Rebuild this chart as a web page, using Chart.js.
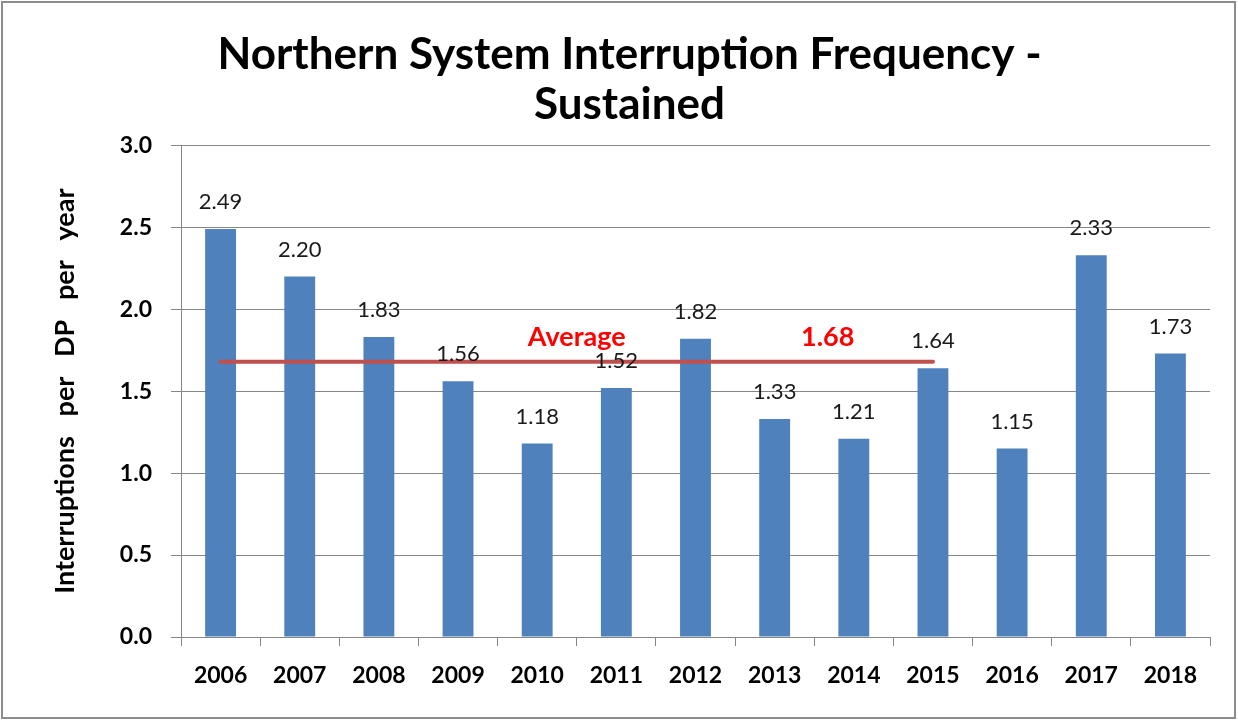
<!DOCTYPE html>
<html><head><meta charset="utf-8">
<script src="https://cdn.jsdelivr.net/npm/chart.js@4"></script>
<style>html,body{margin:0;padding:0;background:#fff;}#wrap{width:1238px;height:721px;position:relative;}</style>
</head><body><div id="wrap"><canvas id="c" width="1238" height="721"></canvas></div>
<script>
const categories = ['2006','2007','2008','2009','2010','2011','2012','2013','2014','2015','2016','2017','2018'];
const values = [2.49,2.20,1.83,1.56,1.18,1.52,1.82,1.33,1.21,1.64,1.15,2.33,1.73];
const averageValue = 1.68;
const averageLine = [1.68,1.68,1.68,1.68,1.68,1.68,1.68,1.68,1.68,1.68,null,null,null];
const yTicks = [0,0.5,1.0,1.5,2.0,2.5,3.0];
const FONT = 'Lato, "Open Sans", sans-serif';

const overlay = {
  id:'overlay',
  afterDatasetsDraw(chart){
    const ctx = chart.ctx;
    const meta = chart.getDatasetMeta(1);
    ctx.save();
    ctx.font = '22px ' + FONT;
    ctx.fillStyle = '#1a1a1a';
    ctx.textAlign = 'center';
    ctx.textBaseline = 'middle';
    meta.data.forEach((bar,i)=>{
      ctx.fillText(values[i].toFixed(2), bar.x, bar.y - 27);
    });
    const xs = chart.scales.x, ys = chart.scales.y;
    const yy = ys.getPixelForValue(averageValue) - 24;
    ctx.font = 'bold 27px ' + FONT;
    ctx.fillStyle = '#ff0000';
    ctx.fillText('Average', xs.getPixelForValue(4.5), yy);
    ctx.fillText(averageValue.toFixed(2), xs.getPixelForValue(7.67), yy);
    ctx.restore();
  },
  afterDraw(chart){
    const ctx = chart.ctx;
    ctx.save();
    ctx.strokeStyle = '#8c8c8c';
    ctx.lineWidth = 2;
    ctx.strokeRect(2, 2, 1233, 716);
    ctx.restore();
  }
};

new Chart(document.getElementById('c'), {
  data: {
    labels: categories,
    datasets: [
      {type:'line', data: averageLine, borderColor:'#C0504D', borderWidth:4, pointRadius:0, borderCapStyle:'round', order:0, spanGaps:false},
      {type:'bar', data: values, backgroundColor:'#4F81BD', categoryPercentage:1, barPercentage:0.39, order:1}
    ]
  },
  options: {
    responsive:false, animation:false,
    layout:{padding:{left:49,right:28,top:0,bottom:0}},
    plugins:{
      legend:{display:false}, tooltip:{enabled:false},
      title:{display:true, text:['Northern System Interruption Frequency -','Sustained'],
        color:'#000', font:{family:FONT, size:44, weight:'bold', lineHeight:1.14}, padding:{top:30,bottom:15}}
    },
    scales:{
      x:{
        grid:{display:true, drawOnChartArea:false, offset:true, color:'#868686', tickLength:9},
        border:{display:true, color:'#868686'},
        ticks:{color:'#000', font:{family:FONT, size:23, weight:'bold'}, padding:16, maxRotation:0},
        afterFit(s){ s.height = 84; }
      },
      y:{
        min:0, max:3,
        afterBuildTicks(s){ s.ticks = yTicks.map(v=>({value:v})); },
        grid:{color:'#868686', tickLength:10},
        border:{display:true, color:'#868686'},
        ticks:{color:'#000', font:{family:FONT, size:23, weight:'bold'}, padding:19, callback:v=>Number(v).toFixed(1)},
        title:{display:true, text:'Interruptions   per   DP   per   year', color:'#000', font:{family:FONT, size:27, weight:'bold', lineHeight:1.2}, padding:{top:0,bottom:0}},
        afterFit(s){ s.width = 132; }
      }
    }
  },
  plugins:[overlay]
});
</script></body></html>
